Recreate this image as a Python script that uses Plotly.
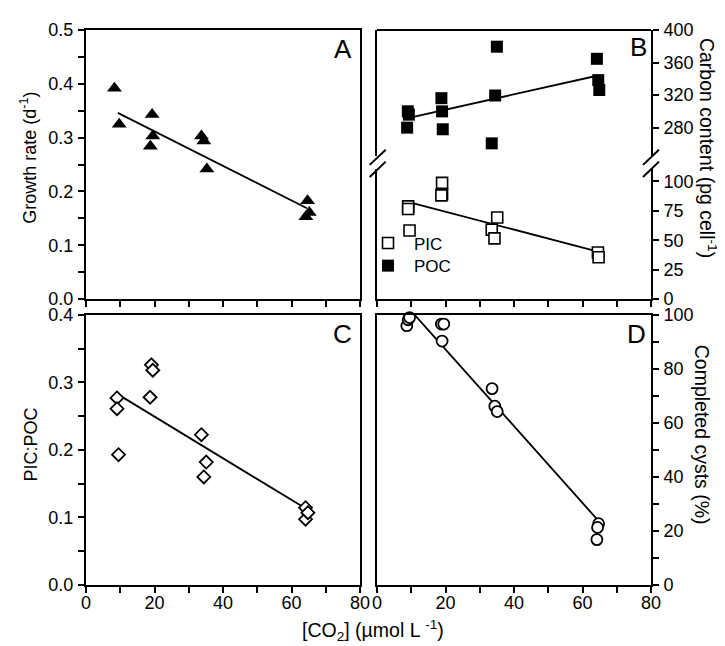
import plotly.graph_objects as go

# ---------------- data ----------------
# Panel A: growth rate (d-1)
a_co2 = [8.3, 9.7, 19.3, 19.5, 18.8, 33.7, 34.4, 35.3, 64.7, 65.2, 64.2]
a_growth = [0.392, 0.325, 0.343, 0.303, 0.284, 0.303, 0.294, 0.242, 0.183, 0.161, 0.153]
a_fit_x = [9.3, 64.5]
a_fit_y = [0.346, 0.169]

# Panel B: carbon content (pg cell-1)
poc_co2 = [9.0, 9.3, 8.8, 18.8, 19.0, 19.2, 34.5, 35.0, 33.5, 64.2, 64.6, 64.9]
poc_val = [300.1, 296.0, 280.0, 316.2, 300.0, 278.0, 319.5, 379.5, 260.7, 364.6, 338.4, 326.3]
poc_fit_x = [9.0, 64.9]
poc_fit_y = [291.7, 344.4]

pic_co2 = [9.1, 9.1, 9.5, 19.0, 19.0, 18.8, 35.1, 33.5, 34.3, 64.5, 64.7]
pic_val = [78.7, 76.5, 58.2, 98.6, 88.9, 88.0, 69.3, 59.0, 51.5, 39.6, 35.5]
pic_fit_x = [9.0, 64.5]
pic_fit_y = [82.5, 40.4]

# Panel C: PIC:POC
c_co2 = [9.05, 9.05, 9.5, 19.1, 19.5, 18.7, 33.7, 35.1, 34.4, 64.1, 64.1, 64.8]
c_ratio = [0.277, 0.261, 0.193, 0.326, 0.318, 0.278, 0.2225, 0.182, 0.160, 0.1145, 0.0975, 0.107]
c_fit_x = [9.1, 64.4]
c_fit_y = [0.283, 0.1124]

# Panel D: completed cysts (%)
d_co2 = [8.7, 9.1, 9.5, 18.8, 19.5, 19.0, 33.6, 34.4, 35.1, 64.7, 64.4, 64.2]
d_cysts = [96.0, 98.2, 99.0, 96.6, 96.6, 90.3, 72.7, 66.2, 64.2, 22.7, 21.3, 16.8]
d_fit_x = [9.3, 64.7]
d_fit_y = [102.4, 23.7]

# ---------------- layout constants ----------------
FONT = "Arial, Liberation Sans, sans-serif"
W, H = 725, 646
ML, MR, MT, MB = 78, 82, 12, 69
PW = W - ML - MR
PH = H - MT - MB


def px(xpix):
    return (xpix - ML) / PW


def py(ypix):
    return (H - MB - ypix) / PH


LW = 1.8
fig = go.Figure()

# Panel A
fig.add_trace(go.Scatter(x=a_fit_x, y=a_fit_y, mode="lines", line=dict(color="black", width=LW),
                         xaxis="x", yaxis="y", showlegend=False))
fig.add_trace(go.Scatter(x=a_co2, y=a_growth, mode="markers", cliponaxis=False,
                         marker=dict(symbol="triangle-up", size=13, color="black"),
                         xaxis="x", yaxis="y", showlegend=False))

# Panel B
fig.add_trace(go.Scatter(x=pic_fit_x, y=pic_fit_y, mode="lines", line=dict(color="black", width=LW),
                         xaxis="x2", yaxis="y2", showlegend=False))
fig.add_trace(go.Scatter(x=poc_fit_x, y=poc_fit_y, mode="lines", line=dict(color="black", width=LW),
                         xaxis="x2", yaxis="y5", showlegend=False))
fig.add_trace(go.Scatter(x=pic_co2, y=pic_val, mode="markers", name="PIC", cliponaxis=False,
                         marker=dict(symbol="square", size=11, color="white",
                                     line=dict(color="black", width=1.6)),
                         xaxis="x2", yaxis="y2", showlegend=True, legend="legend"))
fig.add_trace(go.Scatter(x=poc_co2, y=poc_val, mode="markers", name="POC", cliponaxis=False,
                         marker=dict(symbol="square", size=12, color="black"),
                         xaxis="x2", yaxis="y5", showlegend=True, legend="legend2"))

# Panel C
fig.add_trace(go.Scatter(x=c_fit_x, y=c_fit_y, mode="lines", line=dict(color="black", width=LW),
                         xaxis="x3", yaxis="y3", showlegend=False))
fig.add_trace(go.Scatter(x=c_co2, y=c_ratio, mode="markers", cliponaxis=False,
                         marker=dict(symbol="diamond", size=10, color="white",
                                     line=dict(color="black", width=1.8)),
                         xaxis="x3", yaxis="y3", showlegend=False))

# Panel D
fig.add_trace(go.Scatter(x=d_fit_x, y=d_fit_y, mode="lines", line=dict(color="black", width=LW),
                         xaxis="x4", yaxis="y4", showlegend=False))
fig.add_trace(go.Scatter(x=d_co2, y=d_cysts, mode="markers", cliponaxis=False,
                         marker=dict(symbol="circle", size=11, color="white",
                                     line=dict(color="black", width=1.8)),
                         xaxis="x4", yaxis="y4", showlegend=False))

tickfont = dict(family=FONT, size=18, color="black")
common = dict(showline=True, linecolor="black", linewidth=2, ticks="outside", ticklen=6,
              tickwidth=1.5, tickcolor="black", showgrid=False, zeroline=False,
              tickfont=tickfont)
minor_t = dict(ticks="outside", ticklen=6, tickwidth=1.5, tickcolor="black")

xl, xr = [0, px(352)], [px(369), 1.0]
yt, yb = [py(286), 1.0], [0, py(302)]

xcommon = dict(common, range=[0, 80], dtick=20, tick0=0, ticklabelstandoff=-6,
               minor=dict(minor_t, dtick=10))
yleft = dict(common, ticklabelstandoff=1)
yright = dict(common, ticklabelstandoff=1, side="right", mirror=True)

legend_common = dict(xanchor="left", yanchor="top", bgcolor="rgba(0,0,0,0)",
                     font=dict(family=FONT, size=17, color="black"), itemwidth=42)

fig.update_layout(
    width=W, height=H,
    margin=dict(l=ML, r=MR, t=MT, b=MB),
    plot_bgcolor="white", paper_bgcolor="white",
    font=dict(family=FONT, size=18, color="black"),
    xaxis=dict(xcommon, domain=xl, anchor="y", mirror=True, showticklabels=False),
    yaxis=dict(yleft, domain=yt, anchor="x", range=[0, 0.5], dtick=0.1, tickformat=".1f",
               mirror=True, minor=dict(minor_t, dtick=0.05)),
    xaxis2=dict(xcommon, domain=xr, anchor="y2", showticklabels=False),
    yaxis2=dict(yright, domain=[py(286), py(153)], anchor="x2", range=[0, 110.8], dtick=25, tick0=0),
    yaxis5=dict(yright, domain=[py(140), 1.0], anchor="x2", range=[245.5, 400], dtick=40, tick0=0),
    xaxis3=dict(xcommon, domain=xl, anchor="y3", mirror=True),
    yaxis3=dict(yleft, domain=yb, anchor="x3", range=[0, 0.4], dtick=0.1, tickformat=".1f",
                mirror=True, minor=dict(minor_t, dtick=0.05)),
    xaxis4=dict(xcommon, domain=xr, anchor="y4", mirror=True),
    yaxis4=dict(yright, domain=yb, anchor="x4", range=[0, 100], dtick=20,
                minor=dict(minor_t, dtick=10)),
    legend=dict(legend_common, x=px(354), y=py(211)),
    legend2=dict(legend_common, x=px(354), y=py(234)),
)

# top frame line of panel B and axis-break marks
shapes = [dict(type="line", xref="paper", yref="paper", x0=px(369), x1=1.0, y0=1.0, y1=1.0,
               line=dict(color="black", width=2))]
for xa, xb in [(361.7, 377.7), (635.0, 651.0)]:
    for ya, yb_ in [(149.3, 134.0), (161.7, 146.0)]:
        shapes.append(dict(type="line", xref="paper", yref="paper",
                           x0=px(xa), y0=py(ya), x1=px(xb), y1=py(yb_),
                           line=dict(color="black", width=2)))
fig.update_layout(shapes=shapes)

ann = []
for letter, xx, yy in [("A", 335, 31), ("B", 630, 29), ("C", 334, 321), ("D", 628, 321)]:
    ann.append(dict(text=letter, x=px(xx), y=py(yy), xref="paper", yref="paper",
                    showarrow=False, font=dict(family=FONT, size=26, color="black"),
                    xanchor="center", yanchor="middle"))
titles = [
    ("Growth rate (d<sup>-1</sup>)", 21, 142, -90, 18),
    ("PIC:POC", 23, 434, -90, 18),
    ("Carbon content (pg cell<sup>-1</sup>)", 700, 132, 90, 19.5),
    ("Completed cysts (%)", 694, 424, 90, 19.5),
    ("[CO<sub>2</sub>] (µmol L <sup>-1</sup>)", 365, 623, 0, 19.5),
]
for text, xx, yy, ang, fs in titles:
    ann.append(dict(text=text, x=px(xx), y=py(yy), xref="paper", yref="paper",
                    showarrow=False, textangle=ang, font=dict(family=FONT, size=fs, color="black"),
                    xanchor="center", yanchor="middle"))
fig.update_layout(annotations=ann)

fig.write_html("out.html")
